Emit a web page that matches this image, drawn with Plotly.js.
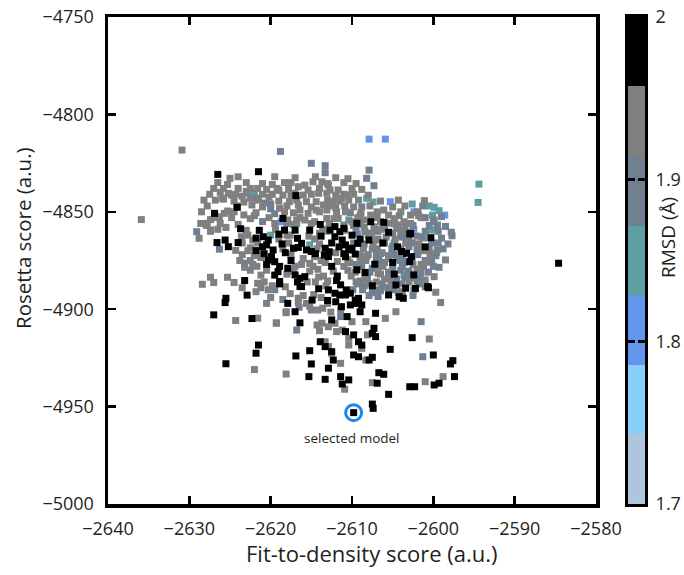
<!DOCTYPE html>
<html><head><meta charset="utf-8">
<script src="https://cdn.plot.ly/plotly-3.0.1.min.js"></script>
<style>html,body{margin:0;padding:0;background:#fff}#chart{width:684px;height:575px}</style>
</head><body><div id="chart"></div>
<script>
// RMSD bands (Å) shown by the colour bar
const bandCenters = [1.7214, 1.7643, 1.8071, 1.8500, 1.8929, 1.9357, 1.9786];
const bandColors = ['#b0c4de', '#87cefa', '#6495ed', '#5f9ea0', '#708090', '#808080', '#000000'];
const cbTickVals = [1.7, 1.8, 1.9, 2.0];
const cbTickText = ['1.7', '1.8', '1.9', '2'];
const xTicks = [-2640, -2630, -2620, -2610, -2600, -2590, -2580];
const yTicks = [-5000, -4950, -4900, -4850, -4800, -4750];

// models: [fit-to-density score, Rosetta score], grouped by RMSD
const rmsdBlue = 1.81, rmsdTeal = 1.85, rmsdSlate = 1.89, rmsdGray = 1.94, rmsdBlack = 1.98;

const bluePts = [[-2607.9,-4812.7],[-2605.9,-4812.7],[-2605.3,-4844.8],[-2598.6,-4851.7],[-2602.4,-4850.0],
[-2603.8,-4860.2],[-2602.4,-4859.0],[-2604.7,-4856.3],[-2618.7,-4855.1],[-2609.3,-4861.4],[-2603.6,-4861.0]];

const tealPts = [[-2594.4,-4835.8],[-2594.5,-4845.2],[-2602.6,-4846.0],[-2600.5,-4847.0],[-2599.9,-4847.7],
[-2599.3,-4849.4],[-2600.1,-4851.7],[-2600.2,-4859.4],[-2608.2,-4843.1],[-2616.8,-4856.0],[-2610.4,-4854.2],
[-2622.8,-4840.5],[-2622.0,-4840.0],[-2626.0,-4843.0],[-2620.0,-4862.0],[-2613.0,-4860.0],[-2605.0,-4880.0],
[-2603.6,-4882.4],[-2606.0,-4888.8],[-2602.6,-4874.0],[-2607.4,-4845.0],[-2621.5,-4872.0],[-2615.2,-4867.0],
[-2604.3,-4891.5],[-2601.2,-4863.5],[-2599.6,-4871.0]];

const slatePts = [[-2618.8,-4819.0],[-2615.0,-4825.1],[-2613.3,-4826.3],[-2613.3,-4829.9],[-2607.9,-4828.6],
[-2608.2,-4832.8],[-2607.3,-4836.6],[-2629.1,-4860.2],[-2627.4,-4860.0],[-2623.6,-4862.8],[-2626.3,-4869.2],
[-2623.2,-4876.4],[-2616.6,-4894.4],[-2615.6,-4897.0],[-2616.8,-4910.7],[-2601.5,-4906.4],[-2601.3,-4924.4],
[-2597.7,-4862.3],[-2600.5,-4869.2],[-2601.0,-4888.5],[-2601.3,-4847.0],[-2599.9,-4854.2],[-2599.5,-4856.8],
[-2608.5,-4858.0],[-2607.2,-4859.0],[-2606.0,-4858.5],[-2605.0,-4861.0],[-2604.0,-4862.5],[-2603.0,-4864.0],
[-2608.0,-4862.0],[-2607.0,-4864.5],[-2606.0,-4866.0],[-2605.0,-4867.5],[-2604.0,-4869.0],[-2603.0,-4868.0],
[-2602.0,-4869.5],[-2608.5,-4866.5],[-2607.5,-4869.0],[-2606.5,-4871.5],[-2605.5,-4872.5],[-2604.5,-4874.0],
[-2603.5,-4876.0],[-2602.5,-4877.0],[-2608.0,-4872.0],[-2607.0,-4874.5],[-2606.0,-4876.0],[-2605.0,-4878.5],
[-2604.0,-4880.0],[-2603.0,-4880.5],[-2607.5,-4879.0],[-2606.5,-4882.0],[-2605.5,-4882.5],[-2604.5,-4884.5],
[-2603.5,-4884.0],[-2602.0,-4885.5],[-2601.5,-4881.0],[-2601.0,-4875.0],[-2600.0,-4878.0],[-2600.2,-4866.0],
[-2599.5,-4869.5],[-2602.0,-4862.5],[-2601.0,-4860.0],[-2599.5,-4858.0],[-2600.0,-4855.0],[-2601.0,-4853.0],
[-2603.5,-4858.0],[-2604.5,-4858.5],[-2606.5,-4890.5],[-2605.5,-4889.5],[-2607.5,-4891.5],[-2608.5,-4888.0],
[-2609.0,-4885.5],[-2609.5,-4877.0],[-2610.5,-4880.0],[-2619.5,-4851.0],[-2618.0,-4856.0],[-2621.0,-4855.0],
[-2622.0,-4852.0],[-2620.0,-4846.0],[-2619.0,-4839.0],[-2612.0,-4848.0],[-2611.0,-4841.0],[-2617.0,-4878.0],
[-2618.0,-4882.0],[-2619.5,-4890.0],[-2621.2,-4889.0],[-2622.5,-4880.0],[-2618.5,-4895.0],[-2616.5,-4899.0],
[-2620.5,-4897.0],[-2614.0,-4911.0],[-2613.0,-4897.0],[-2615.0,-4900.4],[-2611.4,-4903.8],[-2612.5,-4922.6],
[-2621.8,-4843.0],[-2620.7,-4845.5],[-2620.0,-4848.5],[-2610.2,-4850.5],[-2608.8,-4847.5],
[-2609.0,-4852.0],[-2604.2,-4852.0],[-2601.8,-4852.0],[-2599.0,-4852.5],[-2609.8,-4857.0],[-2602.5,-4857.0],
[-2600.5,-4857.0],[-2598.5,-4857.5],[-2609.5,-4860.0],[-2606.8,-4860.0],[-2603.2,-4860.5],[-2599.4,-4860.0],
[-2597.8,-4860.5],[-2605.8,-4863.0],[-2603.8,-4863.0],[-2601.4,-4863.0],[-2599.0,-4863.5],[-2609.8,-4866.0],
[-2604.8,-4866.0],[-2602.6,-4866.0],[-2599.4,-4866.0],[-2598.2,-4866.5],[-2606.9,-4869.0],[-2605.1,-4869.0],
[-2601.7,-4869.0],[-2598.8,-4869.0],[-2609.0,-4872.0],[-2607.0,-4872.0],[-2604.8,-4872.0],[-2603.8,-4872.5],
[-2601.9,-4872.0],[-2599.7,-4872.5],[-2608.3,-4875.0],[-2606.7,-4875.0],[-2604.1,-4875.0],[-2600.2,-4875.0],
[-2608.8,-4878.0],[-2606.8,-4878.0],[-2603.8,-4878.0],[-2601.2,-4878.0],[-2599.3,-4878.5],[-2609.6,-4881.0],
[-2607.8,-4881.0],[-2605.5,-4881.0],[-2603.1,-4881.0],[-2600.6,-4881.0],[-2608.1,-4884.0],[-2605.3,-4884.0],
[-2602.8,-4884.0],[-2601.6,-4884.0],[-2609.3,-4887.0],[-2607.9,-4887.0],[-2606.3,-4887.0],[-2603.9,-4887.0],
[-2601.8,-4887.0],[-2609.9,-4890.0],[-2608.7,-4890.0],[-2606.9,-4890.0],[-2604.9,-4890.0],[-2602.4,-4890.0],
[-2607.9,-4893.0],[-2606.8,-4893.5],[-2602.5,-4893.0]];

const grayPts = [[-2630.9,-4818.3],[-2635.9,-4854.0],[-2625.0,-4832.8],[-2625.3,-4836.0],[-2626.2,-4840.0],
[-2625.2,-4840.5],[-2624.3,-4841.0],[-2623.5,-4842.0],[-2625.8,-4843.5],[-2624.5,-4844.5],[-2623.3,-4845.0],
[-2622.5,-4843.0],[-2621.6,-4838.0],[-2621.0,-4841.0],[-2620.2,-4842.5],[-2622.3,-4846.5],[-2623.3,-4851.6],
[-2625.3,-4849.6],[-2627.4,-4854.0],[-2627.9,-4857.0],[-2625.5,-4858.0],[-2627.8,-4855.9],[-2626.3,-4852.5],
[-2625.7,-4850.8],[-2627.4,-4859.3],[-2628.8,-4863.6],[-2624.0,-4838.0],[-2623.0,-4839.5],[-2620.5,-4838.5],
[-2619.8,-4836.0],[-2618.3,-4835.0],
[-2616.6,-4837.1],[-2615.8,-4836.3],[-2614.8,-4834.6],[-2613.7,-4834.6],[-2612.9,-4836.3],[-2612.7,-4838.8],
[-2611.7,-4838.8],[-2613.1,-4840.5],[-2614.1,-4840.5],[-2615.4,-4838.8],[-2616.0,-4841.4],[-2617.0,-4840.5],
[-2617.7,-4844.8],[-2616.6,-4846.5],[-2615.6,-4844.8],[-2614.4,-4844.8],[-2613.5,-4846.5],[-2612.3,-4844.8],
[-2611.3,-4843.1],[-2610.6,-4841.4],[-2610.0,-4838.0],[-2610.4,-4844.0],[-2611.9,-4850.0],[-2613.1,-4849.1],
[-2614.4,-4849.1],[-2615.4,-4850.8],[-2616.4,-4849.1],[-2618.5,-4841.4],[-2618.9,-4848.2],[-2617.9,-4854.2],
[-2616.8,-4854.2],[-2615.8,-4854.2],[-2614.6,-4855.1],[-2613.1,-4853.4],[-2611.7,-4853.4],[-2611.0,-4856.8],
[-2610.0,-4855.1],[-2608.6,-4854.2],[-2607.7,-4851.7],[-2606.9,-4850.0],[-2606.1,-4849.1],[-2605.5,-4851.7],
[-2606.5,-4855.1],[-2607.3,-4857.7],[-2608.4,-4860.2],[-2605.3,-4855.9],[-2604.4,-4856.8],[-2603.6,-4855.1],
[-2602.8,-4851.7],[-2602.0,-4850.0],[-2601.1,-4844.3],
[-2624.0,-4832.0],[-2619.5,-4832.0],[-2617.0,-4832.5],[-2614.5,-4832.0],[-2612.0,-4832.5],[-2610.5,-4833.0],
[-2626.5,-4835.0],[-2623.0,-4835.0],[-2621.0,-4835.5],[-2617.5,-4835.0],[-2613.0,-4835.5],[-2611.0,-4835.0],
[-2609.5,-4835.5],[-2627.0,-4838.0],[-2625.8,-4838.0],[-2622.5,-4838.0],[-2619.2,-4838.0],[-2617.8,-4838.5],
[-2614.0,-4838.0],[-2608.8,-4838.5],[-2627.5,-4841.0],[-2624.8,-4841.5],[-2619.8,-4841.0],[-2617.5,-4841.5],
[-2615.0,-4841.0],[-2612.0,-4841.5],[-2609.8,-4841.0],[-2608.0,-4841.5],[-2628.2,-4844.0],[-2626.8,-4844.0],
[-2621.5,-4844.0],[-2619.0,-4844.5],[-2616.8,-4844.0],[-2613.0,-4844.0],[-2611.5,-4844.5],[-2609.2,-4844.0],
[-2606.5,-4844.5],[-2604.3,-4844.0],[-2627.8,-4847.0],[-2624.2,-4847.0],[-2621.0,-4847.5],[-2618.0,-4847.0],
[-2615.0,-4847.5],[-2612.8,-4847.0],[-2610.9,-4847.0],[-2609.8,-4847.5],[-2607.8,-4847.0],[-2605.0,-4847.5],
[-2603.5,-4847.0],[-2628.5,-4850.0],[-2624.5,-4850.0],[-2621.8,-4850.5],[-2618.3,-4850.0],[-2617.2,-4850.5],
[-2614.0,-4850.0],[-2610.8,-4850.0],[-2608.9,-4850.5],[-2604.0,-4850.0],[-2601.9,-4850.5],[-2626.9,-4853.0],
[-2624.8,-4853.0],[-2622.5,-4853.5],[-2620.2,-4853.0],[-2616.4,-4853.0],[-2612.2,-4853.5],[-2609.3,-4853.0],
[-2606.9,-4853.0],[-2604.8,-4853.5],[-2601.5,-4853.0],[-2628.6,-4856.0],[-2626.2,-4856.0],[-2624.0,-4856.5],
[-2619.5,-4856.0],[-2617.2,-4856.5],[-2615.0,-4856.0],[-2612.8,-4856.0],[-2609.0,-4856.5],[-2602.8,-4856.0],
[-2626.5,-4859.0],[-2623.0,-4859.5],[-2619.4,-4859.0],[-2613.6,-4859.0],[-2610.9,-4859.5],[-2606.4,-4859.0],
[-2604.0,-4859.5],
[-2622.8,-4862.0],[-2622.2,-4864.5],[-2621.6,-4866.0],[-2622.8,-4870.0],[-2623.5,-4872.0],[-2622.5,-4875.0],
[-2621.7,-4878.0],[-2620.5,-4880.0],[-2621.2,-4882.5],[-2620.8,-4886.0],[-2619.8,-4888.0],[-2618.0,-4862.0],
[-2617.8,-4866.0],[-2618.5,-4869.0],[-2617.5,-4872.0],[-2616.0,-4874.0],[-2615.2,-4876.5],[-2614.6,-4873.0],
[-2614.3,-4869.0],[-2614.6,-4864.0],[-2614.0,-4861.0],[-2613.3,-4876.0],[-2614.2,-4879.5],[-2615.2,-4880.5],
[-2613.5,-4883.0],[-2614.5,-4886.0],[-2613.2,-4888.0],[-2612.3,-4880.5],[-2611.0,-4878.0],[-2610.3,-4876.0],
[-2609.0,-4875.0],[-2608.2,-4873.0],[-2608.6,-4869.0],[-2607.4,-4867.0],[-2606.8,-4864.0],[-2607.6,-4861.0],
[-2606.3,-4871.0],[-2605.5,-4874.0],[-2606.2,-4878.0],[-2606.8,-4881.5],[-2606.0,-4884.5],[-2605.2,-4886.5],
[-2607.0,-4886.0],[-2608.4,-4884.5],[-2609.5,-4886.0],[-2610.1,-4883.0],[-2603.4,-4866.0],[-2604.7,-4864.0],
[-2601.8,-4866.5],[-2601.2,-4870.0],[-2600.4,-4872.0],[-2598.5,-4874.7],[-2599.9,-4883.3],[-2599.7,-4891.3],
[-2599.1,-4896.6],[-2601.5,-4877.0],[-2602.0,-4879.5],[-2601.0,-4885.0],[-2603.0,-4886.0],[-2603.8,-4891.0],
[-2600.8,-4875.9],[-2600.5,-4915.3],
[-2623.5,-4866.0],[-2622.5,-4868.5],[-2624.3,-4869.8],[-2623.8,-4875.0],[-2622.2,-4877.0],[-2621.2,-4873.5],
[-2619.0,-4864.0],[-2617.6,-4862.0],[-2615.3,-4862.5],[-2614.0,-4866.5],[-2613.8,-4875.0],[-2614.8,-4878.0],
[-2616.2,-4877.0],[-2617.2,-4880.5],[-2615.5,-4886.0],[-2614.1,-4883.5],[-2613.0,-4885.5],[-2611.8,-4875.5],
[-2610.5,-4874.5],[-2612.0,-4871.0],[-2618.2,-4888.5],[-2620.3,-4890.0],[-2621.8,-4891.0],[-2617.6,-4892.0],
[-2616.6,-4896.5],[-2615.2,-4898.5],[-2613.6,-4899.5],[-2612.6,-4901.5],[-2611.4,-4900.5],[-2620.0,-4894.0],
[-2623.5,-4889.0],
[-2628.4,-4887.2],[-2627.4,-4883.6],[-2627.0,-4886.3],[-2625.3,-4883.6],[-2624.5,-4886.3],[-2624.3,-4905.8],
[-2621.6,-4904.6],[-2619.3,-4907.0],[-2618.1,-4901.8],[-2616.0,-4893.0],[-2614.7,-4892.5],[-2613.8,-4894.0],
[-2614.2,-4900.4],[-2618.1,-4933.3],[-2610.9,-4941.1],[-2607.5,-4937.7],[-2598.8,-4934.6],[-2601.0,-4937.2],
[-2622.0,-4931.0],[-2618.1,-4901.3],[-2619.3,-4907.2],[-2614.3,-4908.1],[-2613.7,-4907.2],[-2612.9,-4909.0],
[-2612.1,-4907.2],[-2611.9,-4911.5],[-2611.2,-4910.7],[-2610.4,-4914.9],[-2610.0,-4906.4],[-2608.3,-4906.4],
[-2608.1,-4913.2],[-2610.4,-4918.4],[-2613.3,-4916.7],[-2612.9,-4919.2],[-2611.4,-4927.8],[-2608.8,-4920.1],
[-2608.3,-4926.1],[-2605.9,-4904.7],[-2604.6,-4901.3],[-2621.6,-4886.7],[-2623.2,-4878.5],[-2622.0,-4872.5]];

const blackPts = [[-2626.5,-4830.8],[-2621.5,-4829.4],[-2624.1,-4847.7],[-2626.9,-4850.8],[-2616.9,-4841.7],
[-2618.5,-4853.4],[-2613.9,-4856.5],[-2612.7,-4859.4],[-2609.4,-4855.9],[-2607.7,-4855.1],[-2606.1,-4855.4],
[-2615.2,-4859.4],[-2617.0,-4859.4],[-2618.3,-4859.4],[-2602.8,-4861.1],[-2626.6,-4865.8],[-2625.6,-4864.5],
[-2625.2,-4867.9],[-2624.0,-4865.8],[-2623.7,-4858.7],[-2621.4,-4859.5],[-2621.8,-4869.9],[-2620.9,-4862.8],
[-2620.3,-4864.5],[-2620.5,-4867.0],[-2619.7,-4869.6],[-2619.9,-4873.0],[-2620.3,-4874.8],[-2619.5,-4875.6],
[-2620.5,-4877.0],[-2619.1,-4880.7],[-2619.5,-4882.5],[-2618.9,-4885.8],[-2621.0,-4868.0],[-2618.6,-4866.5],
[-2618.2,-4871.0],[-2618.9,-4878.0],[-2617.5,-4875.0],[-2617.9,-4879.0],[-2617.0,-4882.4],[-2616.4,-4884.1],
[-2615.8,-4883.3],[-2616.4,-4888.3],[-2616.7,-4886.0],[-2616.7,-4863.6],[-2616.2,-4866.2],[-2616.6,-4868.3],
[-2615.6,-4869.6],[-2615.0,-4870.4],[-2617.2,-4868.7],[-2612.1,-4857.6],[-2611.5,-4860.2],[-2612.1,-4862.8],
[-2611.2,-4864.5],[-2610.8,-4867.0],[-2610.4,-4869.6],[-2610.0,-4868.7],[-2611.6,-4868.0],[-2609.6,-4871.7],
[-2610.8,-4873.1],[-2609.3,-4866.2],[-2610.0,-4862.0],[-2612.5,-4866.0],[-2613.3,-4868.7],[-2613.4,-4872.2],
[-2612.9,-4873.0],[-2609.0,-4864.0],[-2611.0,-4858.5],[-2612.5,-4878.0],[-2611.8,-4883.0],[-2611.9,-4885.3],
[-2611.4,-4887.5],[-2610.7,-4890.1],[-2611.5,-4892.7],[-2610.2,-4891.8],[-2609.2,-4894.4],[-2609.5,-4897.0],
[-2614.1,-4889.5],[-2612.9,-4890.1],[-2614.9,-4895.3],[-2613.0,-4895.5],[-2612.0,-4896.2],[-2609.4,-4879.8],
[-2608.4,-4881.2],[-2607.2,-4876.9],[-2607.5,-4888.0],[-2623.2,-4885.3],[-2625.5,-4894.4],[-2625.6,-4896.6],
[-2622.9,-4892.8],[-2627.0,-4902.9],[-2622.3,-4904.8],[-2617.9,-4897.0],[-2617.0,-4901.3],[-2616.4,-4907.0],
[-2621.5,-4918.4],[-2621.8,-4922.6],[-2616.9,-4924.0],[-2615.2,-4921.3],[-2615.0,-4928.1],[-2613.9,-4916.7],
[-2613.3,-4919.2],[-2612.5,-4921.8],[-2612.3,-4926.1],[-2612.9,-4930.3],[-2610.8,-4911.5],[-2609.8,-4913.2],
[-2609.2,-4916.7],[-2608.8,-4918.4],[-2609.8,-4923.5],[-2609.2,-4924.4],[-2607.9,-4926.1],[-2607.5,-4924.7],
[-2607.1,-4914.1],[-2607.3,-4909.8],[-2607.5,-4912.4],[-2615.3,-4934.6],[-2613.3,-4936.0],[-2611.4,-4934.6],
[-2611.2,-4938.4],[-2610.4,-4936.3],[-2606.9,-4938.0],[-2606.7,-4932.6],[-2606.1,-4933.4],[-2605.5,-4943.7],
[-2607.5,-4948.7],[-2607.4,-4950.9],[-2609.8,-4953.1],[-2605.3,-4920.6],[-2602.6,-4914.6],[-2600.0,-4923.5],
[-2597.9,-4928.1],[-2597.6,-4926.4],[-2597.4,-4934.6],[-2599.9,-4938.9],[-2599.3,-4938.0],[-2602.9,-4939.8],
[-2602.3,-4939.8],[-2618.9,-4887.0],[-2616.2,-4888.4],[-2612.1,-4891.8],[-2610.8,-4892.7],[-2609.6,-4895.3],
[-2608.8,-4897.8],[-2609.0,-4901.3],[-2607.1,-4902.1],[-2605.5,-4892.7],[-2604.2,-4893.6],[-2604.6,-4887.6],
[-2602.2,-4889.3],[-2600.7,-4888.4],[-2604.8,-4882.0],[-2602.4,-4882.4],[-2603.4,-4889.2],[-2603.7,-4894.4],
[-2602.9,-4861.4],[-2600.3,-4863.3],[-2604.4,-4868.0],[-2603.9,-4870.4],[-2603.3,-4871.3],[-2602.7,-4873.0],
[-2602.9,-4875.5],[-2606.2,-4866.0],[-2605.5,-4860.5],[-2601.0,-4868.0],[-2600.6,-4889.0],[-2584.6,-4876.4],
[-2607.9,-4864.5],[-2605.0,-4876.0],[-2625.5,-4928.0],[-2612.5,-4905.5],[-2610.6,-4903.8],[-2610.2,-4897.8],
[-2611.3,-4898.7],[-2613.8,-4862.5],[-2612.8,-4870.5],[-2611.0,-4871.5],[-2614.5,-4871.5],[-2619.0,-4861.5],
[-2621.8,-4863.5],[-2620.8,-4871.5]];

// the selected model
const selX = [-2609.8];
const selY = [-4953.1];

// ---- build traces ----
const groups = [[bluePts, rmsdBlue], [tealPts, rmsdTeal], [slatePts, rmsdSlate], [grayPts, rmsdGray], [blackPts, rmsdBlack]];
const xs = [], ys = [], cs = [];
groups.forEach(([pts, r]) => pts.forEach(p => { xs.push(p[0]); ys.push(p[1]); cs.push(r); }));

const n = bandColors.length;
const colorscale = [];
bandColors.forEach((c, i) => { colorscale.push([i / n, c]); colorscale.push([(i + 1) / n, c]); });

const ink = '#231f20';
const traces = [
  {type: 'scatter', mode: 'markers', x: xs, y: ys, hoverinfo: 'skip',
   marker: {symbol: 'square', size: 7, color: cs, colorscale: colorscale, cmin: 1.7, cmax: 2.0, showscale: false, line: {width: 0}}},
  {type: 'scatter', mode: 'markers', x: selX, y: selY, hoverinfo: 'skip',
   marker: {symbol: 'circle-open', size: 16, color: '#1a86f0', line: {width: 3, color: '#1a86f0'}}},
  {type: 'heatmap', x: [0], y: bandCenters, z: bandCenters.map(v => [v]), colorscale: colorscale,
   zmin: 1.7, zmax: 2.0, showscale: false, xaxis: 'x2', yaxis: 'y2', hoverinfo: 'skip'}
];

const W = 684, H = 575, L = 108, R = 39, T = 17, B = 71, plotRight = 596, cbLeft = 628;
const pw = W - L - R, ph = H - T - B;
const px2paperX = p => (p - L) / pw, px2paperY = p => (H - B - p) / ph;
const layout = {
  width: W, height: H,
  margin: {l: L, r: R, t: T, b: B, pad: 0},
  paper_bgcolor: '#fff', plot_bgcolor: '#fff', showlegend: false,
  font: {family: 'Open Sans, sans-serif', color: ink},
  xaxis: {domain: [0, px2paperX(plotRight)], range: [-2640, -2580], tickvals: xTicks,
    ticks: 'inside', ticklen: 8, tickwidth: 2.5, tickcolor: '#000',
    showline: true, linewidth: 3.5, linecolor: '#000', mirror: 'ticks',
    showgrid: false, zeroline: false, tickfont: {size: 18, color: ink}, ticklabelstandoff: 6},
  yaxis: {domain: [0, 1], range: [-5000, -4750], tickvals: yTicks,
    ticks: 'inside', ticklen: 8, tickwidth: 2.5, tickcolor: '#000',
    showline: true, linewidth: 3.5, linecolor: '#000', mirror: 'ticks',
    showgrid: false, zeroline: false, tickfont: {size: 18, color: ink}, ticklabelstandoff: 7},
  xaxis2: {domain: [px2paperX(cbLeft), 1], anchor: 'y2', range: [-0.5, 0.5], showticklabels: false, ticks: '',
    showline: true, mirror: true, linewidth: 3, linecolor: '#000', showgrid: false, zeroline: false},
  yaxis2: {domain: [0, 1], anchor: 'x2', side: 'right', range: [1.7, 2.0], tickvals: cbTickVals, ticktext: cbTickText,
    ticks: 'inside', ticklen: 7, tickwidth: 2.5, tickcolor: '#000', mirror: 'ticks',
    showline: true, linewidth: 3, linecolor: '#000', showgrid: false, zeroline: false,
    tickfont: {size: 18, color: ink}, ticklabelstandoff: 4},
  annotations: [
    {text: 'selected model', x: -2610, y: -4966, xref: 'x', yref: 'y', showarrow: false, font: {size: 13.5, color: ink}},
    {text: 'Fit-to-density score (a.u.)', xref: 'paper', yref: 'paper', x: px2paperX(371), y: px2paperY(553),
     xanchor: 'center', yanchor: 'middle', showarrow: false, font: {size: 22, color: ink}},
    {text: 'Rosetta score (a.u.)', textangle: -90, xref: 'paper', yref: 'paper', x: px2paperX(23), y: px2paperY(238),
     xanchor: 'center', yanchor: 'middle', showarrow: false, font: {size: 20.5, color: ink}},
    {text: 'RMSD (Å)', textangle: -90, xref: 'paper', yref: 'paper', x: px2paperX(668), y: px2paperY(238),
     xanchor: 'center', yanchor: 'middle', showarrow: false, font: {size: 19, color: ink}}
  ]
};

Plotly.newPlot('chart', traces, layout, {staticPlot: true, displayModeBar: false});
</script></body></html>
